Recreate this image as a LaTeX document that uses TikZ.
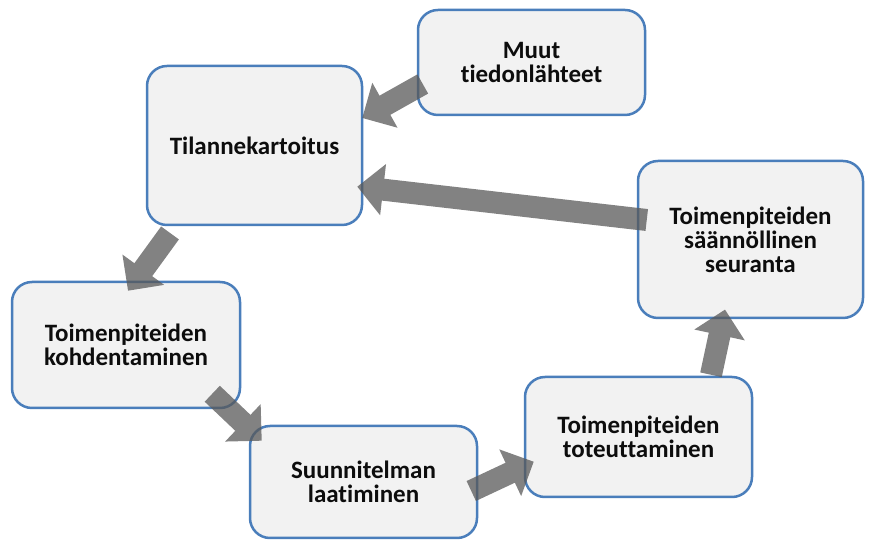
\documentclass[tikz,border=0pt]{standalone}
\usepackage{fontspec}
\setmainfont{Carlito}[Ligatures=NoCommon]
\usetikzlibrary{arrows.meta}
\definecolor{boxblue}{RGB}{74,126,187}
\definecolor{boxfill}{RGB}{242,242,242}
\definecolor{flowgray}{RGB}{88,88,88}
\tikzset{
  box/.style={draw=boxblue, line width=2.5pt, fill=boxfill, rounded corners=20pt,
    align=center, inner sep=0pt, text=black!95,
    font=\fontsize{25}{24}\selectfont\bfseries},
  flow/.style={draw=flowgray, line width=22pt, -{Triangle[length=26pt,width=50pt]}}
}
\begin{document}
\begin{tikzpicture}[x=1pt,y=1pt]
			\useasboundingbox (0,0) rectangle (870,540);
			\node[box,minimum width=227pt,minimum height=105pt] (muut) at (531.5,477.5) {Muut\\tiedonlähteet};
			\node[box,minimum width=215pt,minimum height=159pt] (tilanne) at (254.5,394.5) {Tilannekartoitus};
			\node[box,minimum width=225pt,minimum height=157pt] (seuranta) at (750.5,300.5) {Toimenpiteiden\\säännöllinen\\seuranta};
			\node[box,minimum width=228pt,minimum height=126pt] (kohd) at (126,195) {Toimenpiteiden\\kohdentaminen};
			\node[box,minimum width=227pt,minimum height=112pt] (suunn) at (363.5,58) {Suunnitelman\\laatiminen};
			\node[box,minimum width=227pt,minimum height=120pt] (toteut) at (638.5,103) {Toimenpiteiden\\toteuttaminen};

			\begin{scope}[transparency group, opacity=0.75]
			\draw[flow] ([shift={(6,-21.5)}]muut.west) -- ([shift={(-1,27.5)}]tilanne.east);
			\draw[flow] ([shift={(-84.5,-6.7)}]tilanne.south) -- ([shift={(2,-10)}]kohd.north);
			\draw[flow] ([shift={(-29,15.5)}]kohd.south east) -- ([shift={(13,-16)}]suunn.north west);
			\draw[flow] ([shift={(-7,-9)}]suunn.east) -- ([shift={(10,-24.7)}]toteut.west);
			\draw[flow] ([shift={(72.5,1)}]toteut.north) -- ([shift={(-25.5,9.7)}]seuranta.south);
			\draw[flow] ([shift={(10,19.5)}]seuranta.west) -- ([shift={(-6,-41.2)}]tilanne.east);
			\end{scope}
\end{tikzpicture}
\end{document}
